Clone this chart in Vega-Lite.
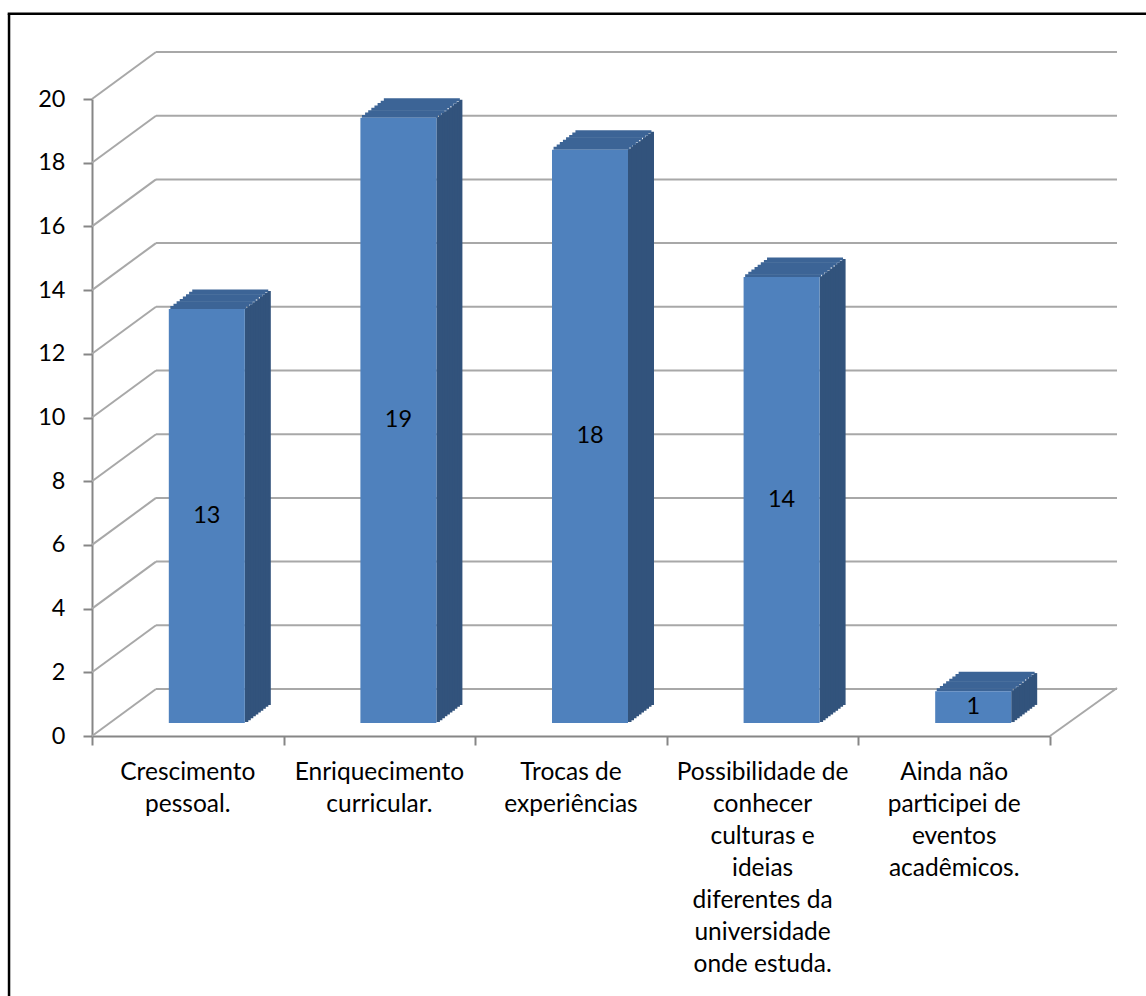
{
  "$schema": "https://vega.github.io/schema/vega-lite/v6.json",
  "width": 958,
  "height": 637,
  "autosize": {"type": "none"},
  "padding": {"left": 92, "top": 99, "right": 96, "bottom": 260},
  "background": "white",
  "config": {
    "view": {"stroke": null},
    "font": "Lato",
    "axis": {"grid": false, "title": null}
  },
  "datasets": {
    "respostas": [
      {"categoria": "Crescimento pessoal.", "valor": 13},
      {"categoria": "Enriquecimento curricular.", "valor": 19},
      {"categoria": "Trocas de experiências", "valor": 18},
      {"categoria": "Possibilidade de conhecer culturas e ideias diferentes da universidade onde estuda.", "valor": 14},
      {"categoria": "Ainda não participei de eventos acadêmicos.", "valor": 1}
    ],
    "grade": [
      {"v": 0}, {"v": 2}, {"v": 4}, {"v": 6}, {"v": 8}, {"v": 10},
      {"v": 12}, {"v": 14}, {"v": 16}, {"v": 18}, {"v": 20}
    ]
  },
  "resolve": {
    "scale": {"x": "independent", "y": "independent"},
    "axis": {"x": "independent", "y": "independent"}
  },
  "layer": [
    {
      "data": {"name": "grade"},
      "transform": [{"filter": "datum.v == 0"}],
      "mark": {"type": "rule", "color": "#000000", "strokeWidth": 2.5},
      "encoding": {
        "x": {"datum": -0.433, "type": "quantitative", "scale": {"domain": [0, 5], "nice": false, "zero": false}, "axis": null},
        "x2": {"datum": -0.433},
        "y": {"datum": 22.68, "type": "quantitative", "scale": {"domain": [0, 20], "nice": false}, "axis": null},
        "y2": {"datum": -8.5}
      }
    },
    {
      "data": {"name": "grade"},
      "transform": [{"filter": "datum.v == 0"}],
      "mark": {"type": "rule", "color": "#000000", "strokeWidth": 2.5},
      "encoding": {
        "x": {"datum": -0.44, "type": "quantitative", "scale": {"domain": [0, 5], "nice": false, "zero": false}, "axis": null},
        "x2": {"datum": 5.52},
        "y": {"datum": 22.68, "type": "quantitative", "scale": {"domain": [0, 20], "nice": false}, "axis": null}
      }
    },
    {
      "data": {"name": "grade"},
      "mark": {"type": "rule", "color": "#a8a8a8", "strokeWidth": 2, "x2Offset": 64, "y2Offset": -47},
      "encoding": {
        "x": {
          "datum": 0, "type": "quantitative",
          "scale": {"domain": [0, 5], "nice": false, "zero": false},
          "axis": {
            "orient": "bottom", "values": [0, 1, 2, 3, 4, 5], "labels": false,
            "ticks": true, "tickSize": 9, "tickColor": "#868686", "tickWidth": 2,
            "domainColor": "#868686", "domainWidth": 2, "grid": false
          }
        },
        "x2": {"datum": 0},
        "y": {"field": "v", "type": "quantitative", "scale": {"domain": [0, 20], "nice": false}, "axis": null},
        "y2": {"field": "v"}
      }
    },
    {
      "data": {"name": "grade"},
      "mark": {"type": "rule", "color": "#a8a8a8", "strokeWidth": 2, "xOffset": 64, "x2Offset": 67, "yOffset": -47, "y2Offset": -47},
      "encoding": {
        "x": {"datum": 0, "type": "quantitative", "scale": {"domain": [0, 5], "nice": false, "zero": false}, "axis": null},
        "x2": {"datum": 5},
        "y": {"field": "v", "type": "quantitative", "scale": {"domain": [0, 20], "nice": false}, "axis": null},
        "y2": {"field": "v"}
      }
    },
    {
      "data": {"name": "grade"},
      "transform": [{"filter": "datum.v == 0"}],
      "mark": {"type": "rule", "color": "#a8a8a8", "strokeWidth": 2, "x2Offset": 67, "y2Offset": -48},
      "encoding": {
        "x": {"datum": 5, "type": "quantitative", "scale": {"domain": [0, 5], "nice": false, "zero": false}, "axis": null},
        "x2": {"datum": 5},
        "y": {"field": "v", "type": "quantitative", "scale": {"domain": [0, 20], "nice": false}, "axis": null},
        "y2": {"field": "v"}
      }
    },
    {
      "data": {"name": "respostas"},
      "encoding": {
        "x": {"field": "categoria", "type": "nominal", "sort": null, "scale": {"paddingInner": 0.6033, "paddingOuter": 0.3017}, "axis": null},
        "y": {"field": "valor", "type": "quantitative", "scale": {"domain": [0, 20], "nice": false}, "axis": null}
      },
      "layer": [
        {"mark": {"type": "bar", "color": "#32537c", "width": 3.5, "xOffset": 81.25, "yOffset": -31.05, "y2Offset": -31.05}, "encoding": {"y2": {"datum": 0}}},
        {"mark": {"type": "bar", "color": "#32537c", "width": 3.5, "xOffset": 78.75, "yOffset": -29.15, "y2Offset": -29.15}, "encoding": {"y2": {"datum": 0}}},
        {"mark": {"type": "bar", "color": "#32537c", "width": 3.5, "xOffset": 76.25, "yOffset": -27.25, "y2Offset": -27.25}, "encoding": {"y2": {"datum": 0}}},
        {"mark": {"type": "bar", "color": "#32537c", "width": 3.5, "xOffset": 73.75, "yOffset": -25.35, "y2Offset": -25.35}, "encoding": {"y2": {"datum": 0}}},
        {"mark": {"type": "bar", "color": "#32537c", "width": 3.5, "xOffset": 71.25, "yOffset": -23.45, "y2Offset": -23.45}, "encoding": {"y2": {"datum": 0}}},
        {"mark": {"type": "bar", "color": "#32537c", "width": 3.5, "xOffset": 68.75, "yOffset": -21.55, "y2Offset": -21.55}, "encoding": {"y2": {"datum": 0}}},
        {"mark": {"type": "bar", "color": "#32537c", "width": 3.5, "xOffset": 66.25, "yOffset": -19.65, "y2Offset": -19.65}, "encoding": {"y2": {"datum": 0}}},
        {"mark": {"type": "bar", "color": "#32537c", "width": 3.5, "xOffset": 63.75, "yOffset": -17.75, "y2Offset": -17.75}, "encoding": {"y2": {"datum": 0}}},
        {"mark": {"type": "bar", "color": "#32537c", "width": 3.5, "xOffset": 61.25, "yOffset": -15.85, "y2Offset": -15.85}, "encoding": {"y2": {"datum": 0}}},
        {"mark": {"type": "bar", "color": "#32537c", "width": 3.5, "xOffset": 58.75, "yOffset": -13.95, "y2Offset": -13.95}, "encoding": {"y2": {"datum": 0}}},
        {"mark": {"type": "bar", "color": "#3c6496", "xOffset": 42.44, "yOffset": -32.5, "y2Offset": -29.625}, "encoding": {"y2": {"field": "valor"}}},
        {"mark": {"type": "bar", "color": "#3c6496", "xOffset": 39.31, "yOffset": -30.125, "y2Offset": -27.25}, "encoding": {"y2": {"field": "valor"}}},
        {"mark": {"type": "bar", "color": "#3c6496", "xOffset": 36.19, "yOffset": -27.75, "y2Offset": -24.875}, "encoding": {"y2": {"field": "valor"}}},
        {"mark": {"type": "bar", "color": "#3c6496", "xOffset": 33.06, "yOffset": -25.375, "y2Offset": -22.5}, "encoding": {"y2": {"field": "valor"}}},
        {"mark": {"type": "bar", "color": "#3c6496", "xOffset": 29.94, "yOffset": -23, "y2Offset": -20.125}, "encoding": {"y2": {"field": "valor"}}},
        {"mark": {"type": "bar", "color": "#3c6496", "xOffset": 26.81, "yOffset": -20.625, "y2Offset": -17.75}, "encoding": {"y2": {"field": "valor"}}},
        {"mark": {"type": "bar", "color": "#3c6496", "xOffset": 23.69, "yOffset": -18.25, "y2Offset": -15.375}, "encoding": {"y2": {"field": "valor"}}},
        {"mark": {"type": "bar", "color": "#3c6496", "xOffset": 20.56, "yOffset": -15.875, "y2Offset": -13}, "encoding": {"y2": {"field": "valor"}}}
      ]
    },
    {
      "data": {"name": "respostas"},
      "mark": {"type": "bar", "color": "#4f81bd", "xOffset": 19, "yOffset": -13, "y2Offset": -13},
      "encoding": {
        "x": {
          "field": "categoria", "type": "nominal", "sort": null,
          "scale": {"paddingInner": 0.6033, "paddingOuter": 0.3017},
          "axis": {
            "orient": "bottom", "domain": false, "ticks": false, "tickSize": 0,
            "labelPadding": 24, "labelAngle": 0, "labelLimit": 400,
            "labelFontSize": 24.5, "labelLineHeight": 32, "labelColor": "#000000", "labelFont": "Lato",
            "labelExpr": "datum.value == 'Crescimento pessoal.' ? ['Crescimento', 'pessoal.'] : datum.value == 'Enriquecimento curricular.' ? ['Enriquecimento', 'curricular.'] : datum.value == 'Trocas de experiências' ? ['Trocas de', 'experiências'] : datum.value == 'Ainda não participei de eventos acadêmicos.' ? ['Ainda não', 'participei de', 'eventos', 'acadêmicos.'] : ['Possibilidade de', 'conhecer', 'culturas e', 'ideias', 'diferentes da', 'universidade', 'onde estuda.']"
          }
        },
        "y": {
          "field": "valor", "type": "quantitative",
          "scale": {"domain": [0, 20], "nice": false},
          "axis": {
            "orient": "left", "values": [0, 2, 4, 6, 8, 10, 12, 14, 16, 18, 20],
            "tickSize": 9, "tickColor": "#868686", "tickWidth": 2,
            "domainColor": "#868686", "domainWidth": 2,
            "labelFontSize": 23.5, "labelColor": "#000000", "labelPadding": 18, "labelFont": "Lato", "grid": false
          }
        },
        "y2": {"datum": 0}
      }
    },
    {
      "data": {"name": "respostas"},
      "mark": {"type": "text", "fontSize": 23.5, "font": "Lato", "color": "#000000", "xOffset": 19, "yOffset": -13, "baseline": "middle", "align": "center"},
      "encoding": {
        "x": {"field": "categoria", "type": "nominal", "sort": null, "scale": {"paddingInner": 0.6033, "paddingOuter": 0.3017}, "axis": null},
        "y": {"field": "valor", "type": "quantitative", "scale": {"domain": [0, 40], "nice": false}, "axis": null},
        "text": {"field": "valor", "type": "quantitative"}
      }
    }
  ]
}
